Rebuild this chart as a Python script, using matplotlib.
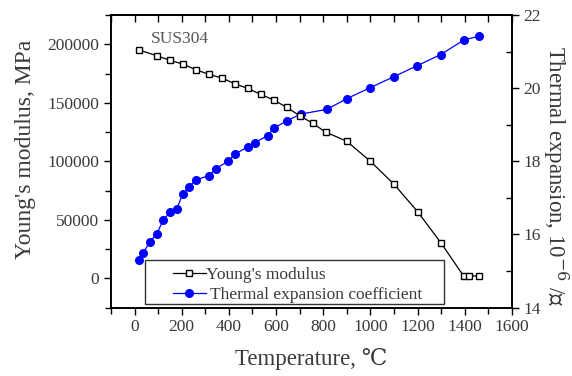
import matplotlib
matplotlib.use('Agg')
import matplotlib.pyplot as plt
from matplotlib.patches import Rectangle
from matplotlib.ticker import MultipleLocator

plt.rcParams['font.family'] = ['Liberation Serif', 'DejaVu Serif']
plt.rcParams['mathtext.fontset'] = 'dejavuserif'

# Young's modulus, MPa
temp_e = [20, 95, 150, 205, 260, 315, 370, 425, 480, 535, 590, 645, 700,
          755, 810, 900, 1000, 1100, 1200, 1300, 1395, 1420, 1460]
modulus = [195100, 190200, 186300, 183100, 178300, 174300, 171200, 166300,
           162300, 157200, 152400, 146100, 139000, 132500, 125000, 117100,
           100000, 80400, 57000, 30000, 2000, 2000, 2000]

# thermal expansion coefficient, 10^-6 /C
temp_a = [20, 37, 65, 94, 122, 150, 179, 204, 232, 260, 315, 344, 397, 426,
          482, 509, 564, 591, 647, 704, 815, 899, 998, 1098, 1197, 1298,
          1397, 1459]
alpha = [15.30, 15.50, 15.80, 16.01, 16.40, 16.60, 16.70, 17.10, 17.31,
         17.49, 17.61, 17.80, 18.00, 18.20, 18.40, 18.51, 18.70, 18.91,
         19.11, 19.29, 19.42, 19.71, 20.01, 20.31, 20.61, 20.92, 21.32, 21.42]

txt = '#3a3a3a'

fig = plt.figure(figsize=(5.72, 3.76), dpi=100)
ax = fig.add_subplot(111)
fig.subplots_adjust(left=0.194, right=0.895, top=0.960, bottom=0.182)
ax2 = ax.twinx()

l1, = ax.plot(temp_e, modulus, color='black', lw=0.9, marker='s', ms=5,
              mfc='white', mec='black', mew=1.0, label="Young's modulus")
l2, = ax2.plot(temp_a, alpha, color='blue', lw=0.9, marker='o', ms=5.5,
               mfc='blue', mec='blue', label=' Thermal expansion coefficient')

ax.set_xlim(-100, 1600)
ax.set_ylim(-25000, 225000)
ax2.set_ylim(14, 22)

ax.xaxis.set_major_locator(MultipleLocator(200))
ax.xaxis.set_minor_locator(MultipleLocator(100))
ax.yaxis.set_major_locator(MultipleLocator(50000))
ax.yaxis.set_minor_locator(MultipleLocator(25000))
ax2.yaxis.set_major_locator(MultipleLocator(2))
ax2.yaxis.set_minor_locator(MultipleLocator(1))

ax.tick_params(which='both', direction='out', labelsize=12.5, labelcolor=txt,
               width=1.0, right=False, top=False)
ax.tick_params(which='major', length=5)
ax.tick_params(which='minor', length=4)
ax2.tick_params(which='major', direction='out', length=5, width=1.0,
                labelsize=12.5, labelcolor=txt)
ax2.tick_params(which='minor', direction='in', length=4, width=1.0)

# top ticks point inward, every 100
top = ax.secondary_xaxis('top')
top.xaxis.set_major_locator(MultipleLocator(100))
top.tick_params(direction='in', length=5, width=1.0, labeltop=False)

for a in (ax, ax2):
    for s in a.spines.values():
        s.set_linewidth(1.2)
top.spines['top'].set_linewidth(1.2)

ax.set_xlabel('Temperature, ℃', fontsize=16.5, color=txt, labelpad=9)
ax.set_ylabel("Young's modulus, MPa", fontsize=17, color=txt,
              ha='center', va='center')
ax.yaxis.set_label_coords(-0.214, 0.54)
ax2.set_ylabel('Thermal expansion, 10$^{-6}$ /℃', fontsize=16.5, color=txt,
               rotation=270, ha='center', va='center')
ax2.yaxis.set_label_coords(1.107, 0.45)

ax.text(70, 204500, 'SUS304', fontsize=12.5, color='#555555', va='center')

# legend frame
ax.add_patch(Rectangle((0.085, 0.012), 0.745, 0.149, transform=ax.transAxes,
                       facecolor='white', edgecolor='#333333', lw=1.0,
                       zorder=5))
leg = ax.legend(handles=[l1, l2], loc='center left',
                bbox_to_anchor=(0.154, 0.078), frameon=False, fontsize=12.5,
                borderpad=0, borderaxespad=0, handlelength=1.9,
                handletextpad=0.0, labelspacing=0.2)
leg.set_zorder(6)
for t in leg.get_texts():
    t.set_color(txt)
ax.set_zorder(ax2.get_zorder() + 1)
ax.patch.set_visible(False)

fig.savefig('out.png', dpi=100)
